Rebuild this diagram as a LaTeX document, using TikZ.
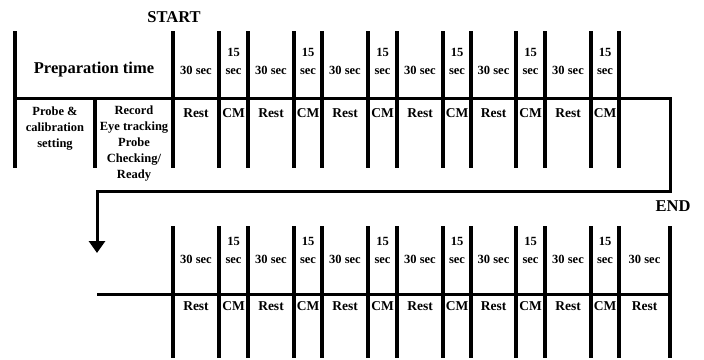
\documentclass[tikz,border=0pt]{standalone}
\usepackage{fontspec}
\setmainfont{Liberation Serif}
\usetikzlibrary{arrows.meta}

\begin{document}
\begin{tikzpicture}[
  x=1pt, y=-1pt,
  font=\bfseries,
  bar/.style={line width=4pt},
  rule/.style={line width=3pt},
  flow/.style={line width=3pt, -{Triangle[width=16pt,length=12pt]}},
  title/.style={font=\fontsize{16.5}{18}\bfseries\selectfont, inner sep=0pt},
  dur/.style={font=\fontsize{12.5}{18}\bfseries\selectfont, inner sep=0pt, align=center},
  phase/.style={font=\fontsize{13.5}{16}\bfseries\selectfont, inner sep=0pt},
  prep/.style={font=\fontsize{12.5}{16}\bfseries\selectfont, inner sep=0pt,
               align=center, anchor=north},
]
\useasboundingbox (0,0) rectangle (704,359);

% first block
\node[title] (start) at (174,17) {START};
\node[title] (prep) at (94,70) {Preparation time};
\node[prep] (probe) at (55,107) {Probe \&\\calibration\\setting};
\node[prep] (record) at (134,106) {Record\\Eye tracking\\Probe\\Checking/\\Ready};

\foreach \x in {15,173,219,248,294,322,368,397,443,471,516,545,591,619}
  \draw[bar] (\x,31) -- (\x,168);
\draw[bar] (95,98) -- (95,168);

\foreach \x/\n in {196/1,271/2,345/3,420/4,493.5/5,568/6} {
  \node[dur] (rest-a\n) at (\x,70) {30 sec};
  \node[phase] (restlab-a\n) at (\x,113) {Rest};
}
\foreach \x/\n in {233.5/1,308/2,382.5/3,457/4,530.5/5,605/6} {
  \node[dur] (cm-a\n) at (\x,61) {15\\sec};
  \node[phase] (cmlab-a\n) at (\x,113) {CM};
}

% wrap to second block
\coordinate (rowstart) at (15,98);
\coordinate (rowend) at (670,98);
\coordinate (turn) at (670,191);
\coordinate (back) at (97,191);
\coordinate (again) at (97,253);
\draw[flow] (rowstart) -- (rowend) -- (turn) -- (back) -- (again);

% second block
\node[title] (end) at (673,206) {END};
\foreach \x in {173,219,248,294,322,368,397,443,471,516,545,591,619,670}
  \draw[bar] (\x,226) -- (\x,358);
\coordinate (lowstart) at (97,294);
\coordinate (lowend) at (672,294);
\draw[rule] (lowstart) -- (lowend);

\foreach \x/\n in {196/1,271/2,345/3,420/4,493.5/5,568/6,644.5/7} {
  \node[dur] (rest-b\n) at (\x,259) {30 sec};
  \node[phase] (restlab-b\n) at (\x,306) {Rest};
}
\foreach \x/\n in {233.5/1,308/2,382.5/3,457/4,530.5/5,605/6} {
  \node[dur] (cm-b\n) at (\x,250) {15\\sec};
  \node[phase] (cmlab-b\n) at (\x,306) {CM};
}

\end{tikzpicture}
\end{document}
